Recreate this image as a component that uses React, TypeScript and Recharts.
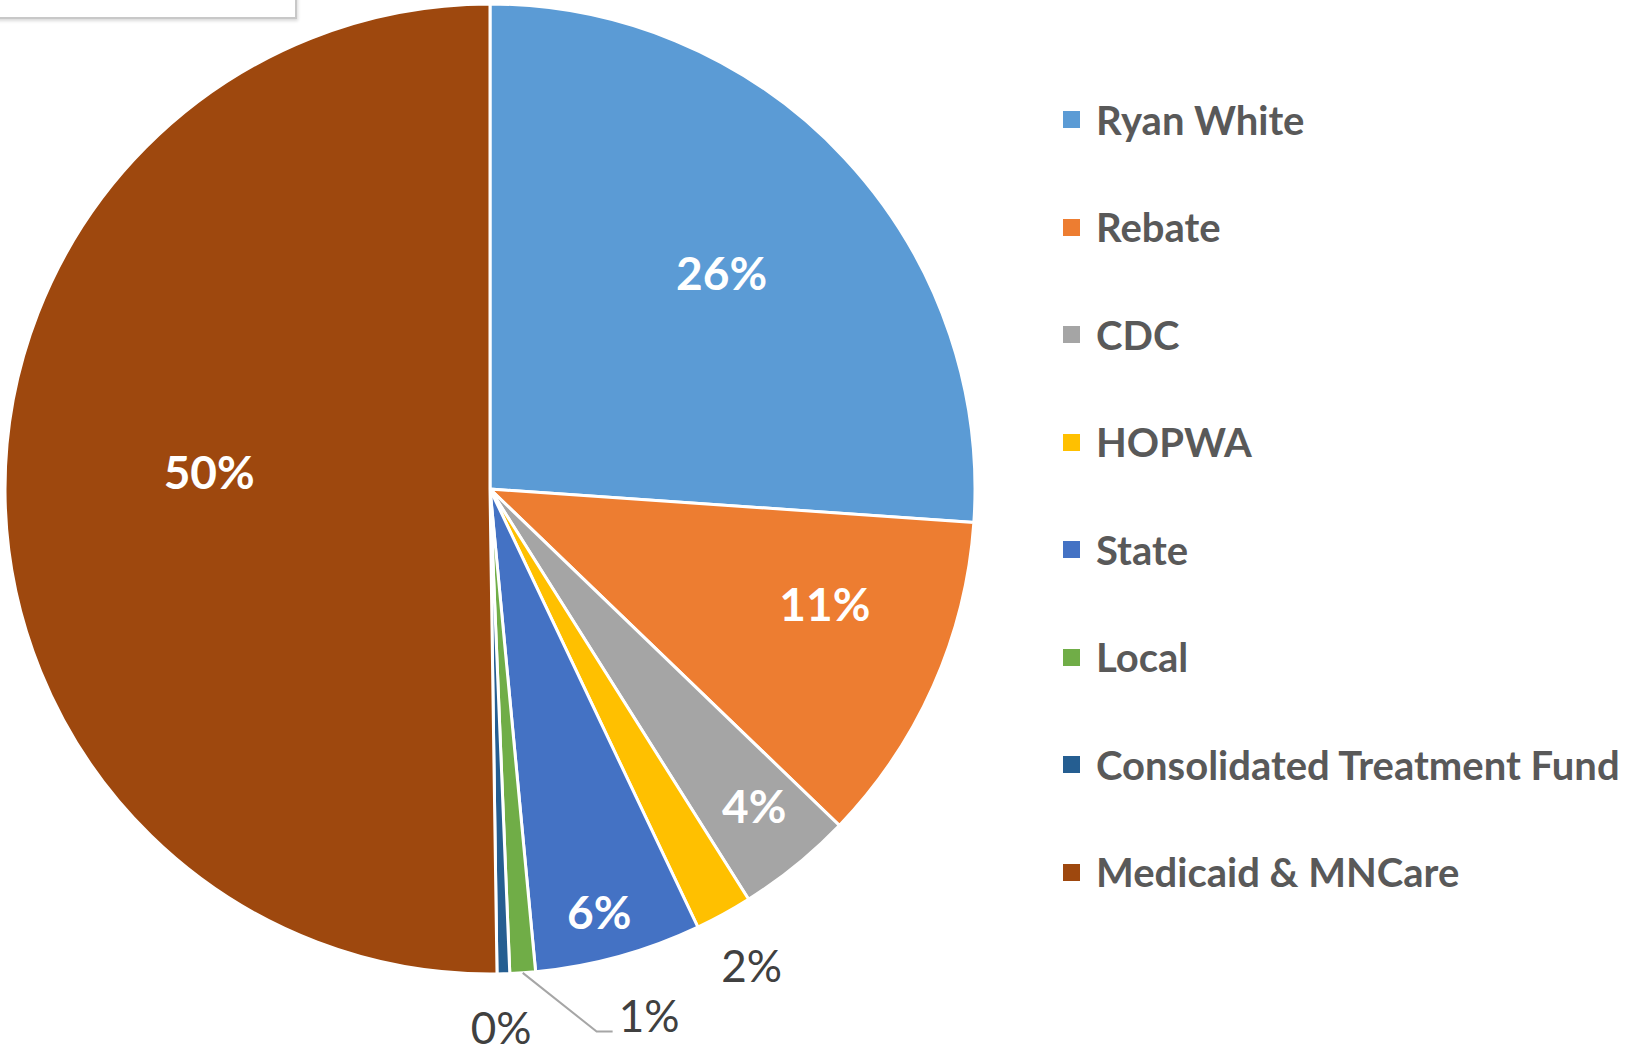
import React from 'react';
import { PieChart, Pie, Cell, Legend } from 'recharts';

const sources = [
  'Ryan White',
  'Rebate',
  'CDC',
  'HOPWA',
  'State',
  'Local',
  'Consolidated Treatment Fund',
  'Medicaid & MNCare',
];
const shares = [26.1, 11.1, 3.85, 1.9, 5.55, 0.85, 0.42, 50.23];
const colors = ['#5B9BD5', '#ED7D31', '#A5A5A5', '#FFC000', '#4472C4', '#70AD47', '#255E91', '#9E480E'];

const data = sources.map((name, i) => ({ name, value: shares[i] }));

// where each data label sits: fraction of the radius, angular nudge (deg, clockwise), inside or not
const labelSpots = [
  { r: 0.653, shift: 0, inside: true },
  { r: 0.73, shift: -5, inside: true },
  { r: 0.85, shift: -0.7, inside: true },
  { r: 1.12, shift: 0, inside: false },
  { r: 0.9, shift: 0.9, inside: true },
  { r: 1.14, shift: -7.25, inside: false, leader: true },
  { r: 1.11, shift: 0.4, inside: false },
  { r: 0.58, shift: 3.9, inside: true },
];

const FONT = 'Lato, "Open Sans", sans-serif';
const RAD = Math.PI / 180;

const renderLabel = (props: any) => {
  const { cx, cy, midAngle, outerRadius, percent, index } = props;
  const spot = labelSpots[index];
  const text = `${Math.round(percent * 100)}%`;
  const a = (midAngle - spot.shift) * RAD;
  const x = cx + outerRadius * spot.r * Math.cos(a);
  const y = cy - outerRadius * spot.r * Math.sin(a);

  if (spot.leader) {
    const m = midAngle * RAD;
    const sx = cx + outerRadius * Math.cos(m);
    const sy = cy - outerRadius * Math.sin(m);
    return (
      <g>
        <polyline
          points={`${sx},${sy} ${x},${y} ${x + 16},${y}`}
          fill="none"
          stroke="#A6A6A6"
          strokeWidth={2}
        />
        <text x={x + 22} y={y} fill="#404040" fontFamily={FONT} fontSize={44} textAnchor="start">
          {text}
        </text>
      </g>
    );
  }

  return (
    <text
      x={x}
      y={y}
      fill={spot.inside ? '#FFFFFF' : '#404040'}
      fontFamily={FONT}
      fontSize={spot.inside ? 46 : 44}
      fontWeight={spot.inside ? 700 : 400}
      textAnchor="middle"
      dominantBaseline="central"
    >
      {text}
    </text>
  );
};

const renderLegend = () => (
  <div style={{ fontFamily: FONT }}>
    {sources.map((name, i) => (
      <div key={name} style={{ height: 107.5, display: 'flex', alignItems: 'center' }}>
        <span style={{ width: 17, height: 17, background: colors[i], display: 'inline-block', marginRight: 16 }} />
        <span style={{ fontSize: 40, fontWeight: 700, color: '#595959', whiteSpace: 'nowrap' }}>{name}</span>
      </div>
    ))}
  </div>
);

export default function App() {
  return (
    <div style={{ position: 'absolute', left: 0, top: 0, width: 1627, height: 1053, background: '#fff', overflow: 'hidden' }}>
      {/* bottom edge of the title box that is cut off in the original */}
      <div
        style={{
          position: 'absolute',
          left: -10,
          top: -60,
          width: 303,
          height: 75,
          border: '2px solid #C8C8C8',
          boxShadow: '1px 2px 3px rgba(0,0,0,0.15)',
          background: '#fff',
          zIndex: 2,
        }}
      />
      <PieChart width={1627} height={1053}>
        <Pie
          data={data}
          dataKey="value"
          nameKey="name"
          cx={485}
          cy={484}
          outerRadius={485}
          startAngle={90}
          endAngle={-270}
          stroke="#FFFFFF"
          strokeWidth={3}
          label={renderLabel}
          labelLine={false}
          isAnimationActive={false}
        >
          {data.map((d, i) => (
            <Cell key={d.name} fill={colors[i]} />
          ))}
        </Pie>
        <Legend
          layout="vertical"
          verticalAlign="top"
          align="right"
          content={renderLegend}
          wrapperStyle={{ left: 1063, top: 66, width: 564 }}
        />
      </PieChart>
    </div>
  );
}
